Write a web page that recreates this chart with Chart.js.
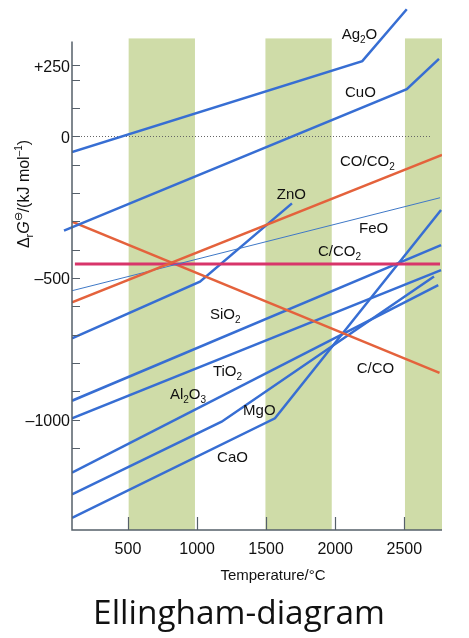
<!DOCTYPE html>
<html lang="en">
<head>
<meta charset="UTF-8">
<title>Ellingham-diagram</title>
<style>
  body { margin: 0; background: #fff; }
  #wrap { position: relative; width: 469px; height: 638px; }
</style>
</head>
<body>
<div id="wrap"><canvas id="chart"></canvas></div>
<script src="https://cdn.jsdelivr.net/npm/chart.js"></script>
<script>
// temperature (°C) / ΔrG (kJ per mol O2)
const ag2oT = [95, 2196, 2518];
const ag2oG = [-56, 265, 448];
const cuoT = [37, 2518, 2751];
const cuoG = [-333, 166, 273];
const coCo2T = [95, 2773];
const coCo2G = [-586, -66];
const feoT = [95, 2759];
const feoG = [-545, -217];
const cCo2T = [116, 2759];
const cCo2G = [-451, -451];
const cCoT = [95, 2755];
const cCoG = [-301, -835];
const znoT = [95, 1021, 1687];
const znoG = [-713, -513, -237];
const sio2T = [95, 2766];
const sio2G = [-933, -384];
const tio2T = [95, 2766];
const tio2G = [-995, -472];
const al2o3T = [95, 2746];
const al2o3G = [-1187, -525];
const mgoT = [95, 1178, 2715];
const mgoG = [-1263, -1007, -495];
const caoT = [95, 1564, 2766];
const caoG = [-1346, -995, -260];

const xTicks = [500, 1000, 1500, 2000, 2500];
const yTicks = [250, 0, -500, -1000];
const yTickText = ['+250', '0', '–500', '–1000'];
const yMinorTicks = [250, 200, 100, 0, -100, -200, -300, -400, -500, -600, -700, -800, -900, -1000, -1100];

// shaded temperature bands
const bandFrom = [505, 1495, 2505];
const bandTo = [985, 1975, 2773];

// line labels: parts (text, subscript?), left T, baseline G
const lineLabels = [
  [[['Ag'], ['2', 1], ['O']], 2047, 343],
  [[['CuO']], 2071, 138],
  [[['CO/CO'], ['2', 1]], 2035, -105],
  [[['ZnO']], 1577, -222],
  [[['FeO']], 2172, -340],
  [[['C/CO'], ['2', 1]], 1875, -422],
  [[['SiO'], ['2', 1]], 1094, -645],
  [[['TiO'], ['2', 1]], 1115, -846],
  [[['Al'], ['2', 1], ['O'], ['3', 1]], 804, -927],
  [[['MgO']], 1333, -983],
  [[['CaO']], 1145, -1148],
  [[['C/CO']], 2156, -836]
];

const BLUE = '#376ed3';
const ORANGE = '#e4623c';
const MAGENTA = '#d8356a';
const FONT = '"Liberation Sans", Arial, sans-serif';

function pts(t, g) {
  return t.map((v, i) => ({ x: v, y: g[i] }));
}

function line(label, t, g, color, width, extra) {
  return Object.assign({
    label: label,
    data: pts(t, g),
    borderColor: color,
    borderWidth: width,
    pointRadius: 0,
    tension: 0,
    fill: false
  }, extra || {});
}

function drawRich(ctx, parts, x, y, size) {
  let cx = x;
  parts.forEach(p => {
    const sub = p[1];
    ctx.font = (sub ? Math.round(size * 0.68) : size) + 'px ' + FONT;
    ctx.fillText(p[0], cx, sub ? y + 4 : y);
    cx += ctx.measureText(p[0]).width;
  });
}

const decor = {
  id: 'decor',
  beforeDatasetsDraw(chart) {
    const { ctx, chartArea, scales: { x, y } } = chart;
    ctx.save();
    ctx.fillStyle = '#cfdca8';
    const top = y.getPixelForValue(345);
    for (let i = 0; i < bandFrom.length; i++) {
      const x0 = x.getPixelForValue(bandFrom[i]);
      const x1 = x.getPixelForValue(bandTo[i]);
      ctx.fillRect(x0, top, x1 - x0, chartArea.bottom - top);
    }
    // dotted zero line
    const y0 = Math.round(y.getPixelForValue(0)) + 0.5;
    ctx.strokeStyle = '#666';
    ctx.lineWidth = 1;
    ctx.setLineDash([1, 2]);
    ctx.beginPath();
    ctx.moveTo(chartArea.left, y0);
    ctx.lineTo(x.getPixelForValue(2690), y0);
    ctx.stroke();
    ctx.restore();
  },
  afterDatasetsDraw(chart) {
    const { ctx, chartArea, scales: { x, y } } = chart;
    ctx.save();
    // axes
    ctx.strokeStyle = '#56606a';
    ctx.lineWidth = 1.5;
    ctx.beginPath();
    ctx.moveTo(chartArea.left, y.getPixelForValue(334));
    ctx.lineTo(chartArea.left, chartArea.bottom);
    ctx.lineTo(chartArea.right, chartArea.bottom);
    ctx.stroke();
    ctx.lineWidth = 1.2;
    ctx.beginPath();
    yMinorTicks.forEach(v => {
      const py = Math.round(y.getPixelForValue(v)) + 0.5;
      ctx.moveTo(chartArea.left, py);
      ctx.lineTo(chartArea.left + 8, py);
    });
    xTicks.forEach(v => {
      const px = Math.round(x.getPixelForValue(v)) + 0.5;
      ctx.moveTo(px, chartArea.bottom);
      ctx.lineTo(px, chartArea.bottom - 13);
    });
    ctx.stroke();

    // line labels
    ctx.fillStyle = '#111';
    ctx.textBaseline = 'alphabetic';
    ctx.textAlign = 'left';
    lineLabels.forEach(l => {
      drawRich(ctx, l[0], x.getPixelForValue(l[1]), y.getPixelForValue(l[2]), 15);
    });

    // y axis title
    ctx.save();
    ctx.translate(29, 194);
    ctx.rotate(-Math.PI / 2);
    const segs = [
      ['Δ', 16, 0, ''], ['r', 11, 4, ''], ['G', 16, 0, 'italic '], ['⊖', 11, -7, ''],
      ['/(kJ mol', 16, 0, ''], ['–1', 10, -7, ''], [')', 16, 0, '']
    ];
    let w = 0;
    segs.forEach(s => { ctx.font = s[3] + s[1] + 'px ' + FONT; w += ctx.measureText(s[0]).width; });
    let cx = -w / 2;
    segs.forEach(s => {
      ctx.font = s[3] + s[1] + 'px ' + FONT;
      ctx.fillText(s[0], cx, s[2]);
      cx += ctx.measureText(s[0]).width;
    });
    ctx.restore();

    // x axis title
    ctx.font = '15px ' + FONT;
    ctx.textAlign = 'center';
    ctx.fillText('Temperature/°C', 273, 580);

    // big caption
    const fam = '"Open Sans", "Noto Sans", sans-serif';
    ctx.font = '36px ' + fam;
    const size = 36 * 292 / ctx.measureText('Ellingham-diagram').width;
    ctx.font = size.toFixed(1) + 'px ' + fam;
    ctx.fillText('Ellingham-diagram', 239, 624);
    ctx.restore();
  }
};

Chart.defaults.font.family = FONT;
Chart.defaults.color = '#111';

function noPad(s) {
  s.paddingTop = 0;
  s.paddingBottom = 0;
  s.paddingLeft = 0;
  s.paddingRight = 0;
}

new Chart(document.getElementById('chart'), {
  type: 'line',
  data: {
    datasets: [
      line('Ag2O', ag2oT, ag2oG, BLUE, 2.5),
      line('CuO', cuoT, cuoG, BLUE, 2.5, { clip: false }),
      line('CO/CO2', coCo2T, coCo2G, ORANGE, 2.5),
      line('FeO', feoT, feoG, '#3f78c6', 1),
      line('C/CO2', cCo2T, cCo2G, MAGENTA, 3),
      line('C/CO', cCoT, cCoG, ORANGE, 2.5),
      line('ZnO', znoT, znoG, BLUE, 2.5),
      line('SiO2', sio2T, sio2G, BLUE, 2.5),
      line('TiO2', tio2T, tio2G, BLUE, 2.5),
      line('Al2O3', al2o3T, al2o3G, BLUE, 2.5),
      line('MgO', mgoT, mgoG, BLUE, 2.5),
      line('CaO', caoT, caoG, BLUE, 2.5)
    ]
  },
  options: {
    responsive: true,
    maintainAspectRatio: false,
    animation: false,
    layout: { padding: { top: 1, right: 27, left: 0, bottom: 0 } },
    plugins: { legend: { display: false }, tooltip: { enabled: false } },
    scales: {
      x: {
        type: 'linear',
        min: 95,
        max: 2773,
        grid: { display: false, drawTicks: false },
        border: { display: false },
        afterBuildTicks: s => { s.ticks = xTicks.map(v => ({ value: v })); },
        afterFit: s => { s.height = 108; noPad(s); },
        ticks: { padding: 10, font: { size: 16 }, callback: v => String(v) }
      },
      y: {
        type: 'linear',
        min: -1389,
        max: 477,
        grid: { display: false, drawTicks: false },
        border: { display: false },
        afterBuildTicks: s => { s.ticks = yTicks.map(v => ({ value: v })); },
        afterFit: s => { s.width = 72; noPad(s); },
        ticks: { padding: 2, labelOffset: 2, font: { size: 16 }, callback: v => yTickText[yTicks.indexOf(v)] }
      }
    }
  },
  plugins: [decor]
});
</script>
</body>
</html>
